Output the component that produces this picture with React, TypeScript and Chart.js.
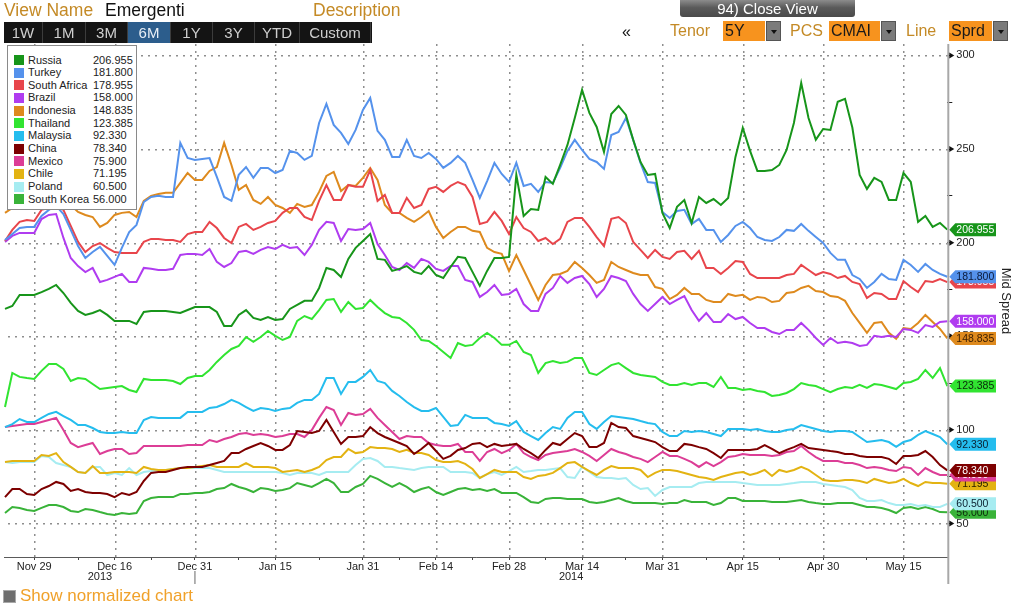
import React, { useEffect, useRef } from "react";
import { Chart, registerables } from "chart.js";
Chart.register(...registerables);

const FONT = "'Liberation Sans', Arial, sans-serif";
const GOLD = "#c48a26";

// ---------- categories / ticks ----------
const startDate = "2013-11-25";
const dayCount = 130;
const majorTickDates = ["2013-11-29", "2013-12-16", "2013-12-31", "2014-01-15", "2014-01-31", "2014-02-14", "2014-02-28", "2014-03-14", "2014-03-31", "2014-04-15", "2014-04-30", "2014-05-15"];
const majorTickLabels = ["Nov 29", "Dec 16", "Dec 31", "Jan 15", "Jan 31", "Feb 14", "Feb 28", "Mar 14", "Mar 31", "Apr 15", "Apr 30", "May 15"];
const minorTickDates = ["2013-12-09", "2013-12-23", "2014-01-08", "2014-01-23", "2014-02-07", "2014-02-21", "2014-03-07", "2014-03-24", "2014-04-08", "2014-04-22", "2014-05-08"];
const yearBreakDate = "2013-12-31";
const yearLabels = ["2013", "2014"];
const yMin = 32.1;
const yMax = 306.1;
const yTickValues = [50, 75, 100, 125, 150, 175, 200, 225, 250, 275, 300];

// ---------- series ----------
const seriesNames = ["Russia", "Turkey", "South Africa", "Brazil", "Indonesia", "Thailand", "Malaysia", "China", "Mexico", "Chile", "Poland", "South Korea"];
const seriesColors = ["#17951a", "#5592ec", "#e8454b", "#b03cf0", "#de8a1e", "#31e431", "#25bdee", "#7d0000", "#dc3d96", "#e3b312", "#a6ecf1", "#39b339"];
const tagTextColors = ["#ffffff", "#0b1a3a", "#ffffff", "#ffffff", "#3a1d00", "#0a2a0a", "#0a2030", "#ffffff", "#ffffff", "#2a2000", "#0a2030", "#0a2a0a"];

const russia = [164.6, 166.2, 172.1, 172.1, 172.1, 173.6, 175.3, 177.4, 173.1, 167.8,
  163.5, 161.4, 162.4, 164.0, 161.4, 158.2, 158.2, 158.2, 156.6, 163.0,
  163.5, 163.5, 163.5, 163.0, 162.4, 164.0, 165.6, 165.6, 165.6, 163.0,
  155.5, 155.5, 161.4, 164.0, 159.8, 158.7, 160.3, 158.7, 159.2, 164.6,
  166.7, 168.9, 168.9, 175.8, 186.5, 185.4, 181.7, 191.3, 197.2, 200.9,
  204.6, 191.3, 190.8, 184.9, 186.0, 187.5, 184.4, 183.3, 187.5, 182.7,
  181.1, 187.0, 192.4, 191.8, 184.4, 176.9, 184.9, 191.8, 191.8, 192.4,
  236.2, 214.3, 218.0, 217.5, 235.1, 231.4, 241.5, 252.2, 266.6, 281.6,
  269.3, 261.8, 248.4, 268.7, 273.0, 268.2, 254.9, 243.1, 236.2, 236.7,
  215.9, 207.8, 219.1, 222.8, 210.5, 224.4, 221.2, 223.3, 220.1, 223.9,
  245.8, 261.3, 249.0, 238.3, 238.3, 238.8, 241.5, 249.5, 263.9, 285.3,
  266.6, 255.0, 260.7, 260.2, 275.2, 276.8, 261.5, 236.2, 228.7, 234.6,
  232.4, 222.8, 222.8, 237.2, 232.4, 211.1, 214.3, 208.4, 210.5, 206.955];

const turkey = [201.4, 204.6, 207.8, 208.4, 208.4, 214.3, 217.5, 219.6, 215.3, 206.8,
  198.2, 191.8, 195.0, 197.7, 192.9, 188.1, 197.2, 205.7, 209.5, 221.7,
  224.4, 225.0, 224.4, 224.4, 253.3, 245.2, 244.2, 244.7, 245.2, 235.1,
  224.4, 222.3, 236.2, 240.4, 234.6, 239.9, 239.9, 237.2, 238.8, 249.0,
  247.9, 244.2, 246.3, 263.9, 274.1, 262.9, 258.6, 252.7, 260.2, 270.9,
  277.3, 259.7, 254.9, 245.8, 245.8, 254.9, 246.3, 245.2, 247.9, 244.7,
  239.9, 242.6, 246.3, 242.6, 233.5, 223.9, 232.9, 242.6, 236.7, 232.4,
  242.6, 230.3, 231.4, 227.1, 232.4, 231.9, 239.9, 249.0, 254.9, 249.5,
  244.7, 243.1, 239.4, 257.5, 259.1, 266.6, 254.9, 242.6, 232.4, 231.9,
  216.4, 213.2, 216.9, 217.5, 210.0, 212.7, 206.8, 206.8, 200.4, 204.1,
  208.9, 211.1, 207.8, 203.0, 201.4, 200.9, 203.0, 206.8, 206.3, 210.0,
  206.3, 203.0, 199.8, 194.5, 190.8, 190.8, 182.7, 180.6, 175.8, 179.0,
  183.3, 180.6, 180.1, 190.8, 188.1, 184.4, 188.6, 185.4, 183.3, 181.8];

const southAfrica = [200.9, 206.8, 211.1, 212.1, 211.6, 217.5, 218.5, 219.6, 217.5, 208.9,
  200.4, 195.0, 198.2, 199.8, 197.2, 195.0, 194.5, 194.5, 194.5, 200.4,
  202.0, 202.0, 201.4, 201.4, 200.4, 204.6, 205.7, 205.7, 211.1, 207.8,
  202.5, 199.8, 208.4, 210.0, 206.8, 208.4, 210.5, 211.6, 215.9, 218.5,
  218.5, 213.7, 212.1, 222.3, 230.8, 222.8, 222.8, 230.8, 229.8, 229.8,
  238.8, 222.3, 225.5, 215.9, 215.9, 223.9, 218.5, 220.1, 228.7, 229.8,
  227.1, 230.3, 232.4, 230.8, 224.4, 210.0, 211.1, 216.4, 211.6, 204.6,
  213.7, 207.8, 205.7, 200.9, 202.5, 199.3, 202.0, 211.1, 213.2, 213.2,
  208.4, 203.0, 198.2, 212.7, 213.7, 210.5, 200.4, 196.1, 191.8, 196.1,
  192.4, 191.3, 195.0, 195.6, 191.3, 195.6, 186.5, 186.5, 183.3, 186.5,
  190.2, 189.7, 183.3, 181.1, 181.1, 181.1, 181.1, 182.7, 183.3, 188.1,
  185.4, 182.7, 184.3, 183.3, 181.1, 182.2, 179.0, 177.9, 170.4, 173.1,
  172.6, 169.9, 169.9, 179.5, 176.3, 173.6, 179.5, 179.0, 180.6, 178.955];

const brazil = [200.4, 203.6, 205.2, 205.2, 205.2, 212.6, 214.8, 215.3, 202.5, 191.8,
  187.5, 184.3, 186.5, 179.0, 180.1, 181.7, 183.3, 179.0, 179.0, 186.5,
  186.0, 185.4, 185.4, 186.0, 193.4, 194.0, 194.0, 193.4, 196.6, 189.7,
  187.0, 189.1, 195.0, 195.6, 194.0, 196.1, 197.7, 196.6, 198.8, 197.2,
  197.7, 193.4, 198.8, 206.8, 211.1, 210.5, 200.9, 207.3, 206.8, 207.3,
  210.5, 199.3, 193.4, 187.0, 185.4, 189.1, 186.5, 191.3, 189.7, 186.0,
  184.9, 187.5, 187.5, 180.1, 179.0, 171.0, 173.6, 177.4, 172.1, 172.6,
  175.3, 167.2, 163.5, 163.5, 172.6, 175.8, 182.2, 178.5, 181.1, 182.2,
  177.9, 171.0, 175.3, 182.2, 181.1, 179.5, 172.6, 167.2, 163.5, 167.2,
  171.0, 167.2, 169.4, 171.5, 164.0, 158.2, 162.4, 157.6, 157.6, 161.9,
  159.2, 160.3, 157.1, 154.4, 154.4, 152.3, 151.2, 153.4, 153.4, 157.1,
  153.4, 149.1, 145.4, 149.1, 146.4, 147.0, 146.4, 144.8, 145.4, 150.2,
  149.6, 150.2, 149.6, 153.9, 153.4, 151.8, 156.0, 155.0, 157.6, 158.0];

const indonesia = [215.9, 218.5, 221.2, 222.8, 222.8, 225.5, 228.2, 229.2, 225.5, 220.1,
  216.4, 214.8, 213.7, 208.4, 210.5, 214.8, 215.9, 216.4, 213.7, 222.3,
  225.0, 226.0, 226.6, 226.6, 231.9, 237.2, 233.5, 233.5, 238.3, 240.4,
  253.3, 241.5, 228.2, 230.8, 222.8, 220.7, 224.4, 220.1, 218.5, 215.9,
  220.7, 219.1, 220.1, 227.1, 235.6, 237.8, 227.6, 230.8, 230.3, 234.6,
  239.9, 233.5, 220.1, 215.9, 215.9, 213.2, 211.1, 213.7, 216.9, 208.4,
  202.5, 205.7, 208.4, 208.4, 206.3, 205.7, 197.2, 195.0, 194.0, 184.9,
  193.4, 185.4, 177.4, 169.4, 177.4, 182.7, 183.3, 184.9, 189.7, 186.5,
  182.7, 178.5, 180.1, 189.7, 187.0, 185.4, 183.8, 182.7, 182.7, 176.3,
  175.3, 169.9, 172.1, 175.8, 172.6, 172.6, 169.4, 168.3, 168.3, 172.6,
  171.5, 172.1, 169.4, 171.0, 170.5, 168.3, 168.9, 173.1, 173.6, 175.8,
  176.9, 174.2, 173.6, 171.5, 171.0, 168.9, 162.4, 157.1, 151.8, 157.1,
  157.6, 151.8, 148.6, 154.4, 153.9, 157.1, 161.4, 157.6, 153.9, 148.835];

const thailand = [112.2, 130.4, 128.3, 127.7, 127.2, 131.5, 135.2, 135.2, 132.5, 126.1,
  127.7, 127.2, 124.5, 121.8, 122.4, 122.9, 123.4, 121.3, 120.2, 127.2,
  126.6, 126.6, 126.6, 126.1, 124.5, 127.7, 128.8, 128.8, 132.0, 136.3,
  140.0, 143.2, 144.8, 149.6, 147.0, 149.6, 152.8, 150.2, 148.0, 149.6,
  158.2, 160.8, 159.2, 164.0, 169.4, 169.9, 163.0, 168.3, 164.6, 165.1,
  169.4, 165.6, 162.4, 160.3, 159.8, 157.1, 153.4, 148.0, 147.5, 144.8,
  141.6, 138.4, 146.4, 144.8, 145.4, 149.1, 151.8, 149.1, 145.4, 145.4,
  147.5, 141.6, 140.0, 130.4, 135.7, 136.8, 135.7, 136.3, 138.4, 138.4,
  130.4, 129.3, 132.0, 134.6, 135.7, 133.0, 130.4, 129.3, 128.8, 128.3,
  125.6, 124.0, 124.0, 125.0, 124.0, 125.0, 125.0, 122.9, 128.3, 122.4,
  122.4, 121.3, 121.8, 120.8, 120.2, 118.1, 118.6, 119.7, 121.8, 125.0,
  124.0, 123.4, 121.8, 120.2, 121.8, 122.9, 122.4, 124.0, 122.4, 124.5,
  124.0, 122.9, 121.8, 125.0, 125.6, 127.2, 132.0, 127.7, 133.0, 123.385];

const malaysia = [101.5, 103.1, 105.8, 104.2, 104.2, 106.4, 108.5, 109.6, 107.4, 105.3,
  102.6, 102.6, 101.0, 98.9, 98.3, 98.3, 98.9, 98.3, 98.3, 105.3,
  106.9, 106.4, 106.4, 106.4, 106.4, 109.6, 109.6, 109.6, 111.7, 112.2,
  113.8, 116.0, 114.4, 112.2, 110.1, 111.7, 111.2, 110.1, 111.2, 111.7,
  114.4, 116.0, 116.0, 119.2, 127.7, 127.7, 119.2, 125.6, 125.6, 128.3,
  132.0, 126.1, 125.0, 120.8, 118.1, 114.9, 112.2, 110.1, 110.1, 111.7,
  106.9, 102.1, 102.6, 108.0, 106.4, 106.4, 106.4, 103.7, 103.1, 102.1,
  104.7, 98.9, 96.7, 94.6, 98.3, 101.5, 100.5, 106.4, 109.6, 109.6,
  103.1, 100.5, 104.2, 107.4, 106.9, 106.4, 105.8, 104.7, 103.7, 103.1,
  98.9, 96.7, 96.7, 99.4, 98.9, 99.4, 98.9, 97.8, 96.7, 100.5,
  100.5, 100.5, 99.9, 100.5, 99.4, 98.9, 98.9, 99.9, 100.5, 102.6,
  101.5, 100.5, 99.4, 98.9, 99.4, 99.4, 98.9, 96.2, 93.5, 94.1,
  94.6, 93.5, 90.9, 93.5, 94.6, 97.3, 99.4, 97.8, 96.2, 92.33];

const china = [64.1, 68.4, 68.4, 65.7, 65.2, 68.4, 70.0, 72.2, 71.1, 67.4,
  68.4, 66.8, 66.3, 66.3, 65.7, 64.1, 66.3, 65.2, 66.8, 72.7,
  77.0, 77.5, 77.5, 78.6, 79.6, 80.2, 80.2, 80.2, 81.2, 82.3,
  83.4, 87.6, 87.6, 89.8, 91.4, 93.0, 91.4, 89.3, 89.3, 91.9,
  99.4, 98.9, 98.3, 99.4, 105.3, 98.9, 92.5, 96.2, 96.2, 96.7,
  101.5, 98.3, 96.2, 94.6, 93.0, 91.4, 87.1, 89.8, 93.0, 88.7,
  84.5, 86.1, 89.3, 90.3, 92.5, 93.0, 90.8, 92.5, 91.4, 91.9,
  92.5, 89.8, 87.6, 85.0, 89.3, 93.0, 91.9, 95.1, 98.3, 96.7,
  90.8, 90.8, 93.0, 103.7, 101.5, 101.0, 96.7, 95.7, 94.6, 93.5,
  90.8, 88.7, 88.7, 92.5, 91.9, 90.8, 89.8, 87.6, 85.0, 89.3,
  89.3, 89.3, 89.3, 89.8, 91.9, 89.8, 87.6, 89.3, 90.8, 92.5,
  90.3, 89.8, 89.3, 88.7, 88.2, 87.1, 87.1, 86.1, 85.5, 85.5,
  85.5, 84.5, 81.8, 86.1, 86.1, 86.6, 88.7, 85.5, 81.2, 78.34];

const mexico = [101.5, 102.1, 102.6, 103.1, 103.1, 104.2, 105.3, 106.4, 99.9, 93.0,
  90.8, 91.9, 93.0, 87.1, 88.7, 89.8, 89.8, 87.1, 87.6, 91.4,
  91.4, 91.4, 91.4, 91.4, 91.4, 91.9, 91.9, 91.9, 94.6, 93.5,
  95.1, 96.2, 97.8, 98.3, 97.3, 97.8, 97.3, 96.2, 96.7, 97.8,
  97.8, 96.2, 99.9, 106.4, 112.2, 110.6, 102.6, 109.0, 108.0, 108.5,
  111.2, 106.4, 102.6, 98.9, 95.1, 96.7, 96.2, 96.2, 93.0, 91.9,
  91.4, 91.4, 92.5, 88.2, 88.2, 83.4, 88.2, 89.8, 87.6, 89.3,
  92.5, 87.6, 85.5, 83.9, 86.6, 87.6, 88.2, 88.7, 89.8, 88.2,
  86.1, 83.4, 86.6, 89.8, 88.2, 87.1, 85.5, 84.5, 82.8, 85.5,
  88.2, 86.1, 86.1, 84.5, 82.8, 80.2, 82.8, 80.7, 82.8, 85.5,
  86.1, 87.1, 86.6, 86.6, 86.6, 86.1, 86.6, 88.2, 88.7, 91.4,
  88.2, 85.5, 83.4, 83.4, 83.4, 82.3, 82.3, 81.2, 79.6, 80.2,
  79.6, 78.6, 78.0, 80.2, 79.6, 75.9, 79.6, 77.5, 75.9, 75.9];

const chile = [82.8, 83.4, 83.4, 83.4, 83.4, 86.6, 86.1, 87.6, 82.8, 80.2,
  77.5, 77.0, 80.7, 77.0, 77.0, 77.5, 77.5, 77.5, 77.0, 80.2,
  79.1, 78.6, 78.6, 79.1, 79.6, 79.6, 80.2, 80.7, 81.2, 80.2,
  80.2, 80.2, 80.2, 82.3, 80.2, 80.2, 80.2, 79.6, 77.5, 78.0,
  78.6, 77.5, 78.6, 80.2, 83.9, 85.5, 85.5, 89.8, 87.6, 88.2,
  90.8, 90.3, 90.3, 89.8, 88.2, 89.3, 87.6, 87.6, 86.6, 83.9,
  82.8, 82.8, 83.4, 81.8, 79.1, 74.3, 76.4, 78.6, 77.5, 77.5,
  77.5, 74.8, 73.8, 75.4, 75.9, 77.0, 79.6, 82.3, 82.8, 80.2,
  78.0, 75.9, 78.6, 80.7, 79.6, 79.6, 79.6, 78.6, 74.8, 77.0,
  78.6, 78.6, 78.0, 77.0, 75.9, 74.8, 74.3, 73.2, 74.8, 75.9,
  77.0, 77.5, 75.9, 77.0, 78.6, 75.4, 78.6, 77.5, 78.6, 80.2,
  78.6, 75.9, 73.2, 72.7, 72.7, 73.2, 73.2, 72.7, 71.6, 73.8,
  72.7, 71.6, 72.2, 73.8, 71.6, 70.0, 72.2, 71.6, 71.6, 71.195];

const poland = [82.8, 82.3, 82.8, 82.8, 82.8, 86.1, 85.5, 82.3, 81.2, 80.2,
  77.5, 77.0, 80.2, 80.2, 75.9, 77.0, 75.9, 79.6, 75.9, 77.5,
  78.0, 78.6, 78.6, 79.1, 79.6, 79.6, 79.6, 79.6, 79.6, 78.6,
  77.5, 77.5, 77.5, 77.5, 77.5, 77.5, 77.5, 77.5, 77.0, 75.9,
  77.0, 77.0, 77.0, 75.9, 77.5, 77.5, 77.5, 77.5, 81.2, 84.5,
  85.0, 83.4, 80.2, 80.2, 79.6, 79.1, 78.6, 79.6, 80.2, 80.2,
  80.2, 77.5, 77.5, 77.5, 77.0, 74.3, 76.4, 77.5, 75.9, 78.0,
  80.2, 77.5, 78.0, 78.6, 78.6, 79.1, 79.6, 74.8, 74.3, 80.2,
  77.5, 74.8, 74.3, 74.3, 73.8, 74.3, 70.6, 68.4, 68.9, 64.7,
  67.9, 69.5, 69.5, 69.5, 69.5, 71.6, 72.2, 72.2, 72.2, 72.2,
  72.2, 71.6, 71.1, 70.6, 70.6, 70.6, 70.6, 71.1, 71.6, 72.2,
  72.2, 72.2, 71.1, 70.6, 70.0, 69.5, 67.9, 63.6, 62.0, 62.0,
  62.5, 60.9, 59.9, 59.9, 60.4, 59.3, 59.9, 58.8, 58.8, 60.5];

const southKorea = [55.6, 58.8, 58.3, 57.2, 56.7, 58.3, 59.9, 59.9, 58.8, 56.7,
  56.1, 57.7, 57.2, 56.1, 55.1, 54.5, 55.6, 55.1, 55.6, 62.0,
  63.6, 64.1, 64.1, 64.1, 65.7, 65.7, 66.3, 66.3, 66.8, 68.4,
  68.9, 71.1, 69.5, 68.4, 66.8, 68.9, 68.4, 67.4, 67.9, 68.9,
  71.6, 70.6, 69.5, 71.6, 73.8, 71.6, 66.8, 66.8, 69.5, 71.1,
  75.4, 73.8, 71.6, 69.5, 71.6, 69.5, 66.8, 68.4, 69.5, 66.8,
  65.2, 66.8, 68.4, 68.9, 67.9, 68.4, 67.4, 68.4, 66.3, 66.3,
  66.3, 64.1, 61.5, 60.9, 63.1, 63.6, 63.6, 63.1, 63.1, 63.1,
  61.5, 60.9, 61.5, 62.5, 63.6, 62.0, 60.9, 60.9, 60.9, 60.9,
  60.4, 60.9, 60.9, 62.5, 61.5, 61.5, 61.5, 59.9, 60.9, 63.6,
  63.6, 62.0, 62.0, 62.0, 62.0, 61.5, 61.5, 61.5, 62.0, 62.5,
  61.5, 60.9, 60.4, 60.4, 60.9, 60.9, 60.9, 59.9, 58.8, 58.8,
  58.3, 57.2, 55.6, 58.3, 58.8, 57.7, 58.8, 57.7, 56.1, 56.0];

const seriesValues = [russia, turkey, southAfrica, brazil, indonesia, thailand, malaysia, china, mexico, chile, poland, southKorea];

function businessDays(start: string, n: number): string[] {
  const out: string[] = [];
  const d = new Date(start + "T00:00:00Z");
  while (out.length < n) {
    const wd = d.getUTCDay();
    if (wd !== 0 && wd !== 6) out.push(d.toISOString().slice(0, 10));
    d.setUTCDate(d.getUTCDate() + 1);
  }
  return out;
}

const rangeButtons = ["1W", "1M", "3M", "6M", "1Y", "3Y", "YTD", "Custom"];
const rangeWidths = [39, 43, 42, 43, 42, 42, 45, 71];
const selectedRange = "6M";

function Dropdown({ left, width, text }: { left: number; width: number; text: string }) {
  return (
    <>
      <div style={{ position: "absolute", left, top: 21, width, height: 20, background: "#f7931e", color: "#1a1a1a", fontSize: 16, lineHeight: "20px", paddingLeft: 2, boxSizing: "border-box" }}>{text}</div>
      <div style={{ position: "absolute", left: left + width + 1, top: 21, width: 15, height: 20, background: "#7b7b7b", boxSizing: "border-box", border: "1px solid #555" }}>
        <div style={{ position: "absolute", left: 4, top: 8, width: 0, height: 0, borderLeft: "3px solid transparent", borderRight: "3px solid transparent", borderTop: "4px solid #111" }} />
      </div>
    </>
  );
}

export default function App() {
  const ref = useRef<HTMLCanvasElement>(null);

  useEffect(() => {
    Chart.defaults.font.family = FONT;
    const labels = businessDays(startDate, dayCount);
    const majorMap = new Map<number, string>();
    majorTickDates.forEach((d, k) => majorMap.set(labels.indexOf(d), majorTickLabels[k]));
    const minorSet = new Set(minorTickDates.map((d) => labels.indexOf(d)));
    const yearBreakIdx = labels.indexOf(yearBreakDate);

    const gridPlugin = {
      id: "dottedGrid",
      beforeDatasetsDraw(chart: any) {
        const ctx = chart.ctx as CanvasRenderingContext2D;
        const area = chart.chartArea;
        const xs = chart.scales.x;
        const ys = chart.scales.y;
        ctx.save();
        ctx.fillStyle = "#8e8e8e";
        majorMap.forEach((_l, idx) => {
          const x = Math.round(xs.getPixelForValue(idx));
          for (let y = Math.ceil(area.top); y < area.bottom; y += 7) ctx.fillRect(x, y, 1.5, 2);
        });
        yTickValues.forEach((v) => {
          if (v % 50 !== 0) return;
          const y = Math.round(ys.getPixelForValue(v));
          for (let x = Math.ceil(area.left) + 3; x < area.right; x += 7) ctx.fillRect(x, y, 2, 1.5);
        });
        ctx.restore();
      },
    };

    const decor = {
      id: "decor",
      afterDraw(chart: any) {
        const ctx = chart.ctx as CanvasRenderingContext2D;
        const area = chart.chartArea;
        const xs = chart.scales.x;
        const ys = chart.scales.y;
        ctx.save();
        // x axis line
        ctx.strokeStyle = "#5a5a5a";
        ctx.lineWidth = 1;
        ctx.beginPath();
        ctx.moveTo(area.left - 1, Math.round(area.bottom) + 0.5);
        ctx.lineTo(area.right + 1, Math.round(area.bottom) + 0.5);
        ctx.stroke();
        // right axis line
        ctx.strokeStyle = "#a8a8a8";
        ctx.lineWidth = 2;
        ctx.beginPath();
        ctx.moveTo(area.right + 1, area.top);
        ctx.lineTo(area.right + 1, 584);
        ctx.stroke();
        // year separator
        const xb = xs.getPixelForValue(yearBreakIdx);
        ctx.strokeStyle = "#9a9a9a";
        ctx.lineWidth = 1.5;
        ctx.beginPath();
        ctx.moveTo(xb, 571);
        ctx.lineTo(xb, 584);
        ctx.stroke();
        // year labels
        ctx.fillStyle = "#222";
        ctx.font = `11px ${FONT}`;
        ctx.textAlign = "center";
        ctx.textBaseline = "middle";
        ctx.fillText(yearLabels[0], (area.left + xb) / 2, 577);
        ctx.fillText(yearLabels[1], (xb + area.right) / 2, 577);
        // major tick markers on y
        ctx.fillStyle = "#111";
        yTickValues.forEach((v) => {
          if (v % 50 !== 0) return;
          const y = ys.getPixelForValue(v);
          ctx.beginPath();
          ctx.moveTo(area.right + 2, y - 3);
          ctx.lineTo(area.right + 7, y);
          ctx.lineTo(area.right + 2, y + 3);
          ctx.closePath();
          ctx.fill();
        });
        // value tags (last series drawn first)
        ctx.font = `10.5px ${FONT}`;
        ctx.textAlign = "left";
        ctx.textBaseline = "middle";
        for (let i = seriesValues.length - 1; i >= 0; i--) {
          const vals = seriesValues[i];
          const last = vals[vals.length - 1];
          const y = ys.getPixelForValue(last);
          const x0 = area.right + 2;
          ctx.fillStyle = seriesColors[i];
          ctx.beginPath();
          ctx.moveTo(x0, y);
          ctx.lineTo(x0 + 6, y - 6.5);
          ctx.lineTo(996, y - 6.5);
          ctx.lineTo(996, y + 6.5);
          ctx.lineTo(x0 + 6, y + 6.5);
          ctx.closePath();
          ctx.fill();
          ctx.fillStyle = tagTextColors[i];
          ctx.fillText(last.toFixed(3), x0 + 7, y + 0.5);
        }
        // axis title
        ctx.translate(1006, 301);
        ctx.rotate(Math.PI / 2);
        ctx.font = `13px ${FONT}`;
        ctx.fillStyle = "#222";
        ctx.textAlign = "center";
        ctx.fillText("Mid Spread", 0, 0);
        ctx.restore();
      },
    };

    const chart = new Chart(ref.current as HTMLCanvasElement, {
      type: "line",
      data: {
        labels,
        datasets: seriesNames.map((name, i) => ({
          label: name,
          data: seriesValues[i],
          borderColor: seriesColors[i],
          backgroundColor: seriesColors[i],
          borderWidth: 2,
          pointRadius: 0,
          tension: 0,
          fill: false,
        })),
      },
      options: {
        animation: false,
        responsive: false,
        maintainAspectRatio: false,
        events: [],
        layout: { padding: { left: 5, top: 44, right: 0, bottom: 0 } },
        plugins: { legend: { display: false }, tooltip: { enabled: false } },
        scales: {
          x: {
            type: "category",
            offset: false,
            afterFit: (s: any) => { s.height = 51; },
            grid: {
              drawOnChartArea: false,
              color: "rgba(0,0,0,0)",
              tickColor: (c: any) => (majorMap.has(c.index) || minorSet.has(c.index) ? "#444" : "rgba(0,0,0,0)"),
              tickLength: 3,
              drawTicks: true,
            },
            border: { display: false },
            ticks: {
              autoSkip: false,
              maxRotation: 0,
              minRotation: 0,
              padding: 0,
              color: "#222",
              font: { size: 11, family: FONT },
              callback: (_v: any, idx: number) => majorMap.get(idx) ?? "",
            },
          },
          y: {
            position: "right",
            min: yMin,
            max: yMax,
            afterBuildTicks: (s: any) => { s.ticks = yTickValues.map((v) => ({ value: v })); },
            afterFit: (s: any) => { s.width = 76.7; },
            grid: {
              drawOnChartArea: false,
              color: "rgba(0,0,0,0)",
              tickColor: "#222",
              tickLength: 5,
            },
            border: { display: false },
            ticks: {
              padding: 4,
              color: "#222",
              font: { size: 11, family: FONT },
              callback: (v: any) => (Number(v) % 50 === 0 ? String(v) : ""),
            },
          },
        },
      },
      plugins: [gridPlugin, decor],
    } as any);
    return () => chart.destroy();
  }, []);

  let bx = 4;
  return (
    <div style={{ position: "fixed", left: 0, top: 0, width: 1024, height: 608, background: "#fff", overflow: "hidden", fontFamily: FONT }}>
      <canvas ref={ref} width={1024} height={608} style={{ position: "absolute", left: 0, top: 0, width: 1024, height: 608 }} />

      {/* header */}
      <div style={{ position: "absolute", left: 4, top: 0, fontSize: 17.5, lineHeight: "20px", color: GOLD }}>View Name</div>
      <div style={{ position: "absolute", left: 105, top: 0, fontSize: 17.5, lineHeight: "20px", color: "#111" }}>Emergenti</div>
      <div style={{ position: "absolute", left: 313, top: 0, fontSize: 17.5, lineHeight: "20px", color: GOLD }}>Description</div>

      <div style={{ position: "absolute", left: 4, top: 22, width: 368, height: 21, background: "#141414" }} />
      {rangeButtons.map((b, k) => {
        const left = bx;
        bx += rangeWidths[k];
        const sel = b === selectedRange;
        return (
          <div key={b} style={{ position: "absolute", left, top: 22, width: rangeWidths[k], height: 21, background: sel ? "#2c5d8c" : "transparent", color: sel ? "#e8eef5" : "#cfcfcf", fontSize: 15, lineHeight: "21px", textAlign: "center", borderRight: "1px solid #3c3c3c", boxSizing: "border-box" }}>{b}</div>
        );
      })}

      <div style={{ position: "absolute", left: 680, top: 0, width: 175, height: 17, background: "linear-gradient(#8c8c8c, #5a5a5a 45%, #4a4a4a)", color: "#fff", fontSize: 15, lineHeight: "17px", textAlign: "center", borderRadius: "0 0 3px 3px" }}>94) Close View</div>

      <div style={{ position: "absolute", left: 622, top: 22, fontSize: 16, lineHeight: "20px", color: "#111" }}>«</div>
      <div style={{ position: "absolute", left: 670, top: 21, fontSize: 16, lineHeight: "20px", color: GOLD }}>Tenor</div>
      <Dropdown left={723} width={42} text="5Y" />
      <div style={{ position: "absolute", left: 790, top: 21, fontSize: 16, lineHeight: "20px", color: GOLD }}>PCS</div>
      <Dropdown left={829} width={51} text="CMAI" />
      <div style={{ position: "absolute", left: 906, top: 21, fontSize: 16, lineHeight: "20px", color: GOLD }}>Line</div>
      <Dropdown left={949} width={43} text="Sprd" />

      {/* legend */}
      <div style={{ position: "absolute", left: 7, top: 45, width: 130, height: 165, background: "#fff", border: "1px solid #8a8a8a", boxSizing: "border-box" }}>
        {seriesNames.map((n, k) => {
          const vals = seriesValues[k];
          const top = 7.5 + 12.66 * k;
          return (
            <React.Fragment key={n}>
              <div style={{ position: "absolute", left: 6, top: top + 1.5, width: 10, height: 10, background: seriesColors[k] }} />
              <div style={{ position: "absolute", left: 20, top, fontSize: 11, lineHeight: "13px", color: "#222", whiteSpace: "nowrap" }}>{n}</div>
              <div style={{ position: "absolute", left: 85, top, fontSize: 11, lineHeight: "13px", color: "#222" }}>{vals[vals.length - 1].toFixed(3)}</div>
            </React.Fragment>
          );
        })}
      </div>

      {/* footer */}
      <div style={{ position: "absolute", left: 3, top: 590, width: 13, height: 13, background: "#6e6e6e", border: "1px solid #a8a8a8", boxSizing: "border-box" }} />
      <div style={{ position: "absolute", left: 20, top: 586, fontSize: 17, lineHeight: "20px", color: "#f0a12a" }}>Show normalized chart</div>
    </div>
  );
}
